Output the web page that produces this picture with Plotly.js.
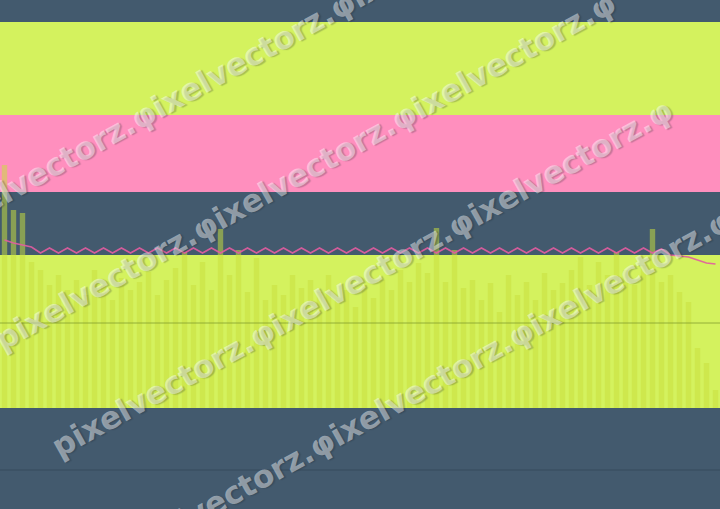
<!DOCTYPE html>
<html>
<head>
<meta charset="utf-8">
<script src="https://cdn.plot.ly/plotly-3.0.1.min.js"></script>
<style>html,body{margin:0;padding:0;background:#435a6e;}#chart{width:720px;height:509px;}</style>
</head>
<body>
<div id="chart"></div>
<script>
// ---- data ----
var barIndex = [];
for (var k = 0; k < 80; k++) barIndex.push(k);

var volumeValues = [
  243,198,195,146,138,123,133,118,128,113,
  138,123,108,130,118,126,136,113,128,140,
  156,123,146,118,179,133,158,116,150,108,
  123,113,133,120,128,116,133,108,118,101,
  123,110,128,118,138,126,145,135,180,126,
  158,120,128,108,125,96,133,113,126,108,
  135,118,125,138,151,123,146,133,156,138,
  123,143,179,126,133,116,106,60,45,18
];

var lineValues = [
  168,165,163,161,155,160,155,160,155,160,
  155,160,155,160,155,160,155,160,155,160,
  155,160,155,160,155,160,155,160,155,160,
  155,160,155,160,155,160,155,160,155,160,
  155,160,155,160,155,160,155,160,155,160,
  155,160,155,160,155,160,155,160,155,160,
  155,160,155,160,155,160,155,160,155,160,
  155,160,155,159,153,152,151,148,145,144
];

var bandLevels = {limeTop:[293,386], pink:[216,293], limeLow:[0,153]};
var gridLevels = [85, -62];

var watermarkText = "pixelvectorz.φixelvectorz.φixelvectorz.φ";
var watermarkTextShort = "pixelvectorz.φixelvectorz.φixel";

// ---- chart ----
var W = 720, H = 509;
function px(x){return x / W;}
function py(y){return 1 - y / H;}

var traces = [
  {
    type: 'bar', x: barIndex, y: volumeValues,
    marker: {color: 'rgba(200,222,62,0.53)', line: {width: 0}},
    hoverinfo: 'skip'
  },
  {
    type: 'scatter', mode: 'lines', x: barIndex, y: lineValues,
    line: {color: 'rgba(226,92,160,0.9)', width: 1.6},
    hoverinfo: 'skip'
  }
];

var shapes = [
  {type:'rect', xref:'paper', x0:0, x1:1, yref:'y', y0:bandLevels.limeTop[0], y1:bandLevels.limeTop[1], fillcolor:'#d4f25e', line:{width:0}, layer:'below'},
  {type:'rect', xref:'paper', x0:0, x1:1, yref:'y', y0:bandLevels.pink[0], y1:bandLevels.pink[1], fillcolor:'#ff8fbe', line:{width:0}, layer:'below'},
  {type:'rect', xref:'paper', x0:0, x1:1, yref:'y', y0:bandLevels.limeLow[0], y1:bandLevels.limeLow[1], fillcolor:'#d4f25e', line:{width:0}, layer:'below'},
  {type:'line', xref:'paper', x0:0, x1:1, yref:'y', y0:gridLevels[0], y1:gridLevels[0], line:{color:'rgba(120,150,40,0.7)', width:1}, layer:'above'},
  {type:'line', xref:'paper', x0:0, x1:1, yref:'y', y0:gridLevels[1], y1:gridLevels[1], line:{color:'#374b5c', width:1}, layer:'below'}
];

var wmFont = {family:'DejaVu Sans, sans-serif', size:31, weight:'bold', color:'rgba(255,255,255,0.45)', shadow:'1.5px 1.5px 1px rgba(30,40,50,0.55)'};
function wm(text, cx, cy){
  return {xref:'paper', yref:'paper', x:px(cx), y:py(cy), xanchor:'center', yanchor:'middle',
          text:text, showarrow:false, textangle:-29, font:wmFont};
}
var annotations = [
  wm(watermarkTextShort, 171, 100),
  wm(watermarkText, 305, 171),
  wm(watermarkText, 362, 278),
  wm(watermarkText, 422, 388)
];

var layout = {
  width: W, height: H,
  margin: {l:0, r:0, t:0, b:0, pad:0},
  paper_bgcolor: '#435a6e', plot_bgcolor: '#435a6e',
  showlegend: false,
  bargap: 0.4,
  xaxis: {range:[-0.5, 79.5], visible:false, fixedrange:true},
  yaxis: {range:[-101, 408], visible:false, fixedrange:true},
  shapes: shapes,
  annotations: annotations
};

Plotly.newPlot('chart', traces, layout, {displayModeBar:false, staticPlot:true});
</script>
</body>
</html>
